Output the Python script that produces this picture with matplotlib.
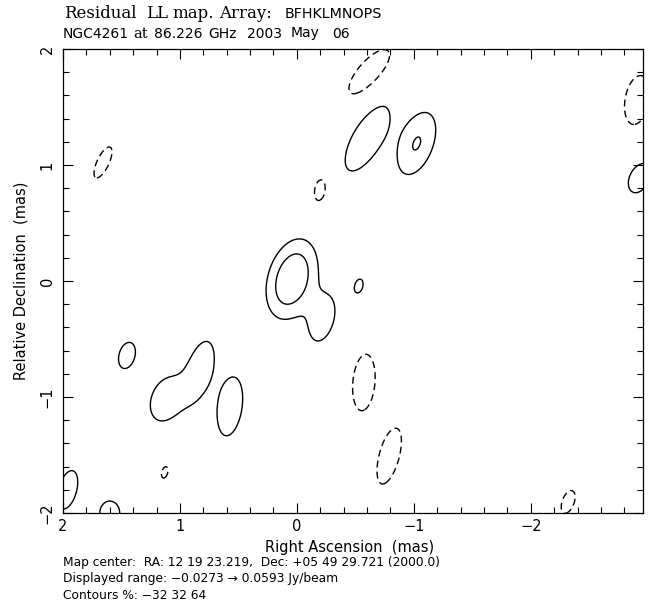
import numpy as np
import matplotlib
matplotlib.use('Agg')
import matplotlib.pyplot as plt
from matplotlib.ticker import MultipleLocator

# residual map components
# RA / Dec offset (mas), peak fraction, major / minor width (mas), PA (deg E of N)
comp_ra = [-0.62, 1.658, -0.20, -2.91, -0.573, -0.79, 1.13, -2.32,
           1.453, 0.572, 1.96, 1.60, -2.93, -0.53, -0.60, -1.025, 0.043, -0.22, 1.12, 0.83]
comp_dec = [1.80, 1.022, 0.784, 1.56, -0.875, -1.51, -1.65, -1.905,
            -0.642, -1.082, -1.80, -2.00, 0.89, -0.043, 1.23, 1.185, 0.017, -0.33, -1.02, -0.77]
comp_amp = [-0.5, -0.5, -0.5, -0.5, -0.5, -0.5, -0.5, -0.5,
            0.5, 0.62, 0.5, 0.5, 0.5, 0.5, 0.6, 0.66, 1.0, 0.5, 0.6, 0.6]
comp_maj = [0.26, 0.154, 0.109, 0.226, 0.258, 0.262, 0.054, 0.109,
            0.122, 0.221, 0.18, 0.109, 0.145, 0.063, 0.28, 0.232, 0.235, 0.20, 0.17, 0.228]
comp_min = [0.10, 0.054, 0.054, 0.109, 0.10, 0.09, 0.027, 0.054,
            0.072, 0.09, 0.081, 0.09, 0.09, 0.036, 0.11, 0.116, 0.136, 0.10, 0.11, 0.092]
comp_pa = [-41, -25, -10, -10, -5, -15, -15, -20,
           -15, -8, -15, 0, -25, -15, -29, -20, -16, -15, -20, -15]

peak = 0.0593           # Jy/beam
contours_pct = [-32, 32, 64]

ra = np.linspace(-3.1, 2.1, 521)
dec = np.linspace(-2.1, 2.1, 421)
X, Y = np.meshgrid(ra, dec)
Z = np.zeros_like(X)
for x0, y0, a, smaj, smin, pa in zip(comp_ra, comp_dec, comp_amp, comp_maj, comp_min, comp_pa):
    t = np.radians(pa)
    dx = X - x0
    dy = Y - y0
    u = dx * np.sin(t) + dy * np.cos(t)
    v = dx * np.cos(t) - dy * np.sin(t)
    Z += a * peak * np.exp(-0.5 * ((u / smaj) ** 2 + (v / smin) ** 2))

W, H = 651, 608
fig = plt.figure(figsize=(W / 100, H / 100), dpi=100)
ax = fig.add_axes([63 / W, 1 - 513 / H, 580 / W, 464 / H])

levels = [p / 100 * peak for p in contours_pct]
ax.contour(X, Y, Z, levels=levels, colors='k', linewidths=1.0,
           linestyles=[(0, (5, 3)) if p < 0 else 'solid' for p in contours_pct])

ax.set_xlim(2.0, -2.96)
ax.set_ylim(-2.0, 2.0)
ax.xaxis.set_major_locator(MultipleLocator(1))
ax.xaxis.set_minor_locator(MultipleLocator(0.2))
ax.yaxis.set_major_locator(MultipleLocator(1))
ax.yaxis.set_minor_locator(MultipleLocator(0.2))
ax.tick_params(which='both', direction='in', top=True, right=True, width=0.8, labelsize=10.5)
ax.tick_params(which='major', length=7)
ax.tick_params(which='minor', length=4)
ax.tick_params(axis='x', pad=4)
ax.tick_params(axis='y', pad=6, labelrotation=90)
for lab in ax.get_yticklabels():
    lab.set_va('center')
for s in ax.spines.values():
    s.set_linewidth(0.9)

ax.set_ylabel('Relative Declination  (mas)', fontsize=10.5, labelpad=8)


def px(x, y):
    return x / W, 1 - y / H


serif = 'DejaVu Serif'
sans = 'DejaVu Sans'
fig.text(*px(350, 552), 'Right Ascension  (mas)', family=sans, fontsize=10.5,
         ha='center', va='baseline')

# title, word by word (wide spacing of the original)
for x, word in [(64, 'Residual'), (146, 'LL'), (172, 'map.'), (219, 'Array:')]:
    fig.text(*px(x, 18.5), word, family=serif, fontsize=12, va='baseline')
fig.text(*px(285, 18.5), 'BFHKLMNOPS', family=sans, fontsize=10.3, va='baseline')
fig.text(*px(63, 37.5), 'NGC4261', family=sans, fontsize=10, va='baseline')
fig.text(*px(133, 37.5), 'at', family=serif, fontsize=10.5, va='baseline')
for x, word in [(154, '86.226'), (208, 'GHz'), (247, '2003'), (291, 'May'), (332, '06')]:
    fig.text(*px(x, 37.5), word, family=sans, fontsize=10, va='baseline')

fig.text(*px(63, 566), 'Map center:  RA: 12 19 23.219,  Dec: +05 49 29.721 (2000.0)',
         family=sans, fontsize=8.8, va='baseline')
fig.text(*px(63, 582), 'Displayed range: \u22120.0273 \u2192 0.0593 Jy/beam',
         family=sans, fontsize=8.8, va='baseline')
fig.text(*px(63, 599), 'Contours %: \u221232 32 64', family=sans, fontsize=8.8, va='baseline')

plt.savefig('out.png', dpi=100)
